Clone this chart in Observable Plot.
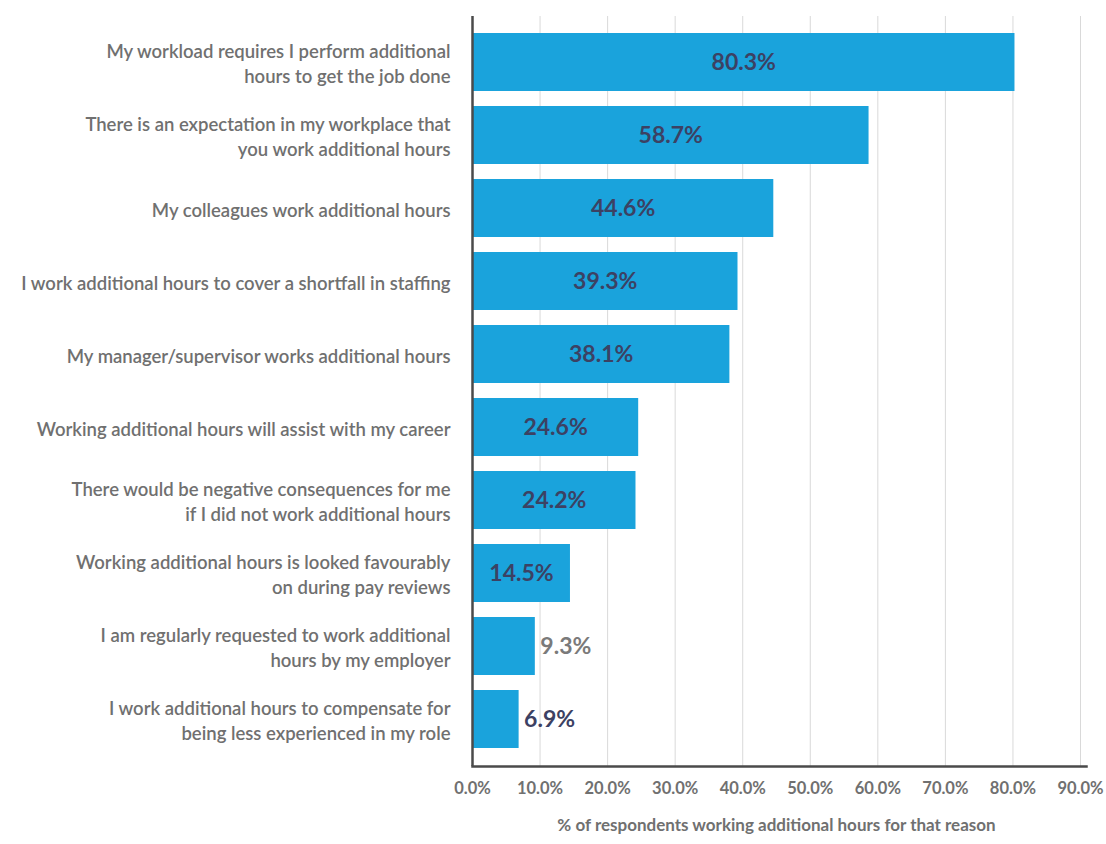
<!DOCTYPE html>
<html>
<head>
<meta charset="utf-8">
<script src="https://cdn.jsdelivr.net/npm/d3@7"></script>
<script src="https://cdn.jsdelivr.net/npm/@observablehq/plot@0.6"></script>
<style>
  html, body { margin: 0; padding: 0; background: #fff; }
</style>
</head>
<body>
<div id="chart"></div>
<script>
const reasons = [
  "My workload requires I perform additional\nhours to get the job done",
  "There is an expectation in my workplace that\nyou work additional hours",
  "My colleagues work additional hours",
  "I work additional hours to cover a shortfall in staffing",
  "My manager/supervisor works additional hours",
  "Working additional hours will assist with my career",
  "There would be negative consequences for me\nif I did not work additional hours",
  "Working additional hours is looked favourably\non during pay reviews",
  "I am regularly requested to work additional\nhours by my employer",
  "I work additional hours to compensate for\nbeing less experienced in my role"
];
const percents = [80.3, 58.7, 44.6, 39.3, 38.1, 24.6, 24.2, 14.5, 9.3, 6.9];
const xTicks = [0, 10, 20, 30, 40, 50, 60, 70, 80, 90];
const xTitle = "% of respondents working additional hours for that reason";

const data = reasons.map((r, i) => ({reason: r, pct: percents[i]}));
const fmt = v => v.toFixed(1) + "%";

const chart = Plot.plot({
  width: 1106,
  height: 844,
  marginLeft: 472,
  marginRight: 26,
  marginTop: 16,
  marginBottom: 78,
  style: {fontFamily: "Lato, 'Open Sans', sans-serif", color: "#707070", background: "#fff"},
  x: {domain: [0, 90], ticks: xTicks, tickFormat: fmt},
  y: {domain: reasons, padding: 0.2, label: null},
  marks: [
    Plot.gridX(xTicks, {stroke: "#d9d9d9", strokeOpacity: 1}),
    Plot.barX(data, {x: "pct", y: "reason", fill: "#1aa3dc"}),
    Plot.frame({anchor: "bottom", stroke: "#4a4a4a", strokeWidth: 2.5, insetRight: -6}),
    Plot.ruleX([0], {stroke: "#4a4a4a", strokeWidth: 2.5}),
    Plot.axisX(xTicks, {tickSize: 0, tickPadding: 16, fontSize: 16.5, fontWeight: "bold", tickFormat: fmt,
      label: xTitle, labelAnchor: "center", labelArrow: "none", labelOffset: 64}),
    Plot.axisY({tickSize: 0, tickPadding: 22, fontSize: 18.5, fontWeight: 600, lineHeight: 1.35}),
    Plot.text(data.filter(d => d.pct >= 12), {x: d => d.pct / 2, y: "reason", text: d => fmt(d.pct),
      fill: "#3c4163", fontSize: 23, fontWeight: "bold"}),
    Plot.text(data.filter(d => d.pct < 12), {x: "pct", y: "reason", text: d => fmt(d.pct),
      textAnchor: "start", dx: 5, fill: d => d.pct < 8 ? "#3c4163" : "#7a7a7a", fontSize: 23, fontWeight: "bold"})
  ]
});
chart.querySelectorAll("[aria-label='x-axis label']").forEach(el => {
  el.setAttribute("font-size", 17);
});
document.getElementById("chart").appendChild(chart);
</script>
</body>
</html>
